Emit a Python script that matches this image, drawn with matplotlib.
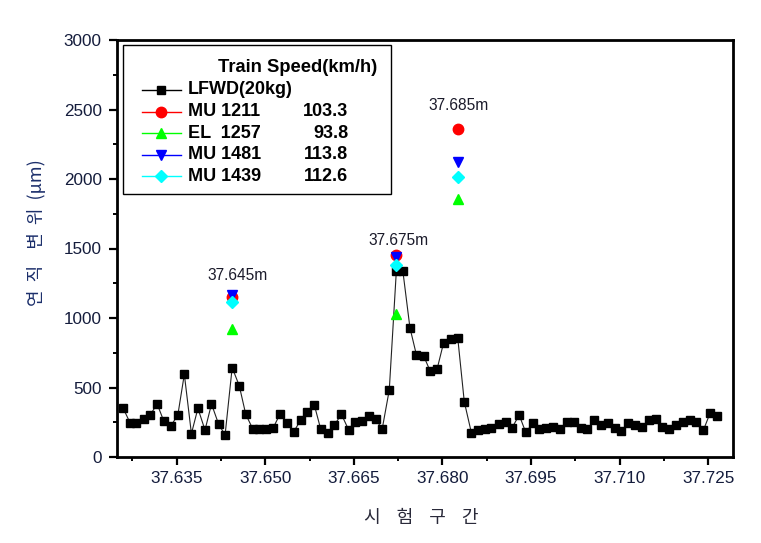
import matplotlib
matplotlib.use('Agg')
import matplotlib.pyplot as plt
from matplotlib.lines import Line2D
from matplotlib.patches import Rectangle

# LFWD (20kg) vertical displacement along the test section
station_km = [37.6259, 37.6271, 37.6282, 37.6294, 37.6305, 37.6317, 37.6328, 37.6340,
              37.6352, 37.6363, 37.6375, 37.6386, 37.6398, 37.6409, 37.6421, 37.6432,
              37.6444, 37.6456, 37.6467, 37.6479, 37.6490, 37.6502, 37.6513, 37.6525,
              37.6537, 37.6548, 37.6560, 37.6571, 37.6583, 37.6594, 37.6606, 37.6617,
              37.6629, 37.6641, 37.6652, 37.6664, 37.6675, 37.6687, 37.6698, 37.6710,
              37.6722, 37.6733, 37.6745, 37.6756, 37.6768, 37.6779, 37.6791, 37.6802,
              37.6814, 37.6826, 37.6837, 37.6849, 37.6860, 37.6872, 37.6883, 37.6895,
              37.6907, 37.6918, 37.6930, 37.6941, 37.6953, 37.6964, 37.6976, 37.6987,
              37.6999, 37.7011, 37.7022, 37.7034, 37.7045, 37.7057, 37.7068, 37.7080,
              37.7092, 37.7103, 37.7115, 37.7126, 37.7138, 37.7149, 37.7161, 37.7172,
              37.7184, 37.7196, 37.7207, 37.7219, 37.7230, 37.7242, 37.7253, 37.7265]
lfwd_um = [355, 247, 247, 271, 302, 381, 261, 223, 302, 595, 168, 350, 194, 381, 237, 158,
           643, 513, 307, 201, 201, 201, 206, 309, 247, 180, 266, 326, 376, 199, 170, 230,
           307, 197, 254, 261, 295, 273, 201, 482, 1340, 1338, 930, 734, 729, 621, 633, 822,
           847, 854, 398, 175, 194, 199, 206, 237, 254, 211, 302, 178, 242, 199, 206, 213,
           199, 254, 254, 206, 199, 266, 230, 242, 206, 189, 247, 230, 213, 266, 271, 218,
           199, 230, 254, 266, 254, 194, 314, 297]

# train passes measured at three stations
peak_km = [37.6444, 37.6722, 37.6826]
mu1211_um = [1150, 1453, 2357]
el1257_um = [921, 1027, 1856]
mu1481_um = [1163, 1441, 2124]
mu1439_um = [1113, 1381, 2012]

peak_labels = ['37.645m', '37.675m', '37.685m']
label_km = [37.6453, 37.6726, 37.6828]
label_um = [1304, 1556, 2532]

train_names = ['MU 1211', 'EL  1257', 'MU 1481', 'MU 1439']
train_speeds = ['103.3', '93.8', '113.8', '112.6']

x_ticks = [37.635, 37.650, 37.665, 37.680, 37.695, 37.710, 37.725]
y_ticks = [0, 500, 1000, 1500, 2000, 2500, 3000]

W, H = 761, 543


def fx(px):
    return px / W


def fy(py):
    return 1 - py / H


plt.rcParams['font.family'] = ['Liberation Sans', 'Noto Sans CJK KR', 'DejaVu Sans']

fig = plt.figure(figsize=(W / 100, H / 100), dpi=100)
ax = fig.add_axes([fx(117), fy(457), (733 - 117) / W, (457 - 40) / H])

ax.plot(station_km, lfwd_um, color='#222222', lw=0.8, marker='s', ms=5.6,
        mfc='black', mec='black', zorder=3)

series = [(mu1211_um, '#ff0000', 'o', 7.5),
          (el1257_um, '#00ff00', '^', 7.8),
          (mu1481_um, '#0000ff', 'v', 7.8),
          (mu1439_um, '#00ffff', 'D', 6.3)]
for i, (vals, col, mk, ms) in enumerate(series):
    ax.plot(peak_km, vals, ls='none', marker=mk, ms=ms, mfc=col, mec=col, zorder=4 + i)

for xk, yv, txt in zip(label_km, label_um, peak_labels):
    ax.text(xk, yv, txt, ha='center', va='center', fontsize=11.2, color='#1a1a2a')

ax.set_xlim(37.6249, 37.7292)
ax.set_ylim(0, 3000)
ax.set_xticks(x_ticks)
ax.set_xticklabels(['%.3f' % v for v in x_ticks])
ax.set_yticks(y_ticks)
ax.set_xticks([v + 0.0075 for v in [37.620] + x_ticks[:-1]], minor=True)
ax.set_yticks([250, 750, 1250, 1750, 2250, 2750], minor=True)

for s in ax.spines.values():
    s.set_linewidth(2.0)
ax.tick_params(which='major', direction='out', length=5.5, width=1.6,
               labelsize=12.3, labelcolor='#141c3c', pad=4.5)
ax.tick_params(which='minor', direction='out', length=3.2, width=1.4)
ax.tick_params(axis='y', which='major', pad=5.5)

# axis titles
fig.text(fx(37), fy(233), '연  직    변  위  (μm)', rotation=90, ha='center', va='center',
         fontsize=13, color='#1c2f6b', family=['Noto Sans CJK KR', 'DejaVu Sans'])
fig.text(fx(421), fy(518), '시    험    구    간', ha='center', va='center',
         fontsize=13, color='#2a2a3a', family=['Noto Sans CJK KR', 'DejaVu Sans'])

# legend box drawn by hand to keep the speed column
fig.add_artist(Rectangle((fx(123), fy(194)), (391 - 123) / W, (194 - 45) / H,
                         transform=fig.transFigure, fill=False, lw=1.0, ec='black'))
fig.text(fx(218), fy(68), 'Train Speed(km/h)', ha='left', va='center',
         fontsize=13.2, fontweight='bold')

rows = [('LFWD(20kg)', '', 'black', 's', 5.6)]
for (vals, col, mk, ms), name, spd in zip(series, train_names, train_speeds):
    rows.append((name, spd, col, mk, ms))

for k, (name, spd, col, mk, ms) in enumerate(rows):
    yy = fy(90 + k * 21.5)
    fig.add_artist(Line2D([fx(142), fx(181)], [yy, yy], transform=fig.transFigure,
                          color=col, lw=1.0))
    fig.add_artist(Line2D([fx(161)], [yy], transform=fig.transFigure, ls='none',
                          marker=mk, ms=ms, mfc=col, mec=col))
    fig.text(fx(188), yy, name, ha='left', va='center', fontsize=13, fontweight='bold')
    if spd:
        fig.text(fx(348), yy, spd, ha='right', va='center', fontsize=13, fontweight='bold')

fig.savefig('out.png', dpi=100)
